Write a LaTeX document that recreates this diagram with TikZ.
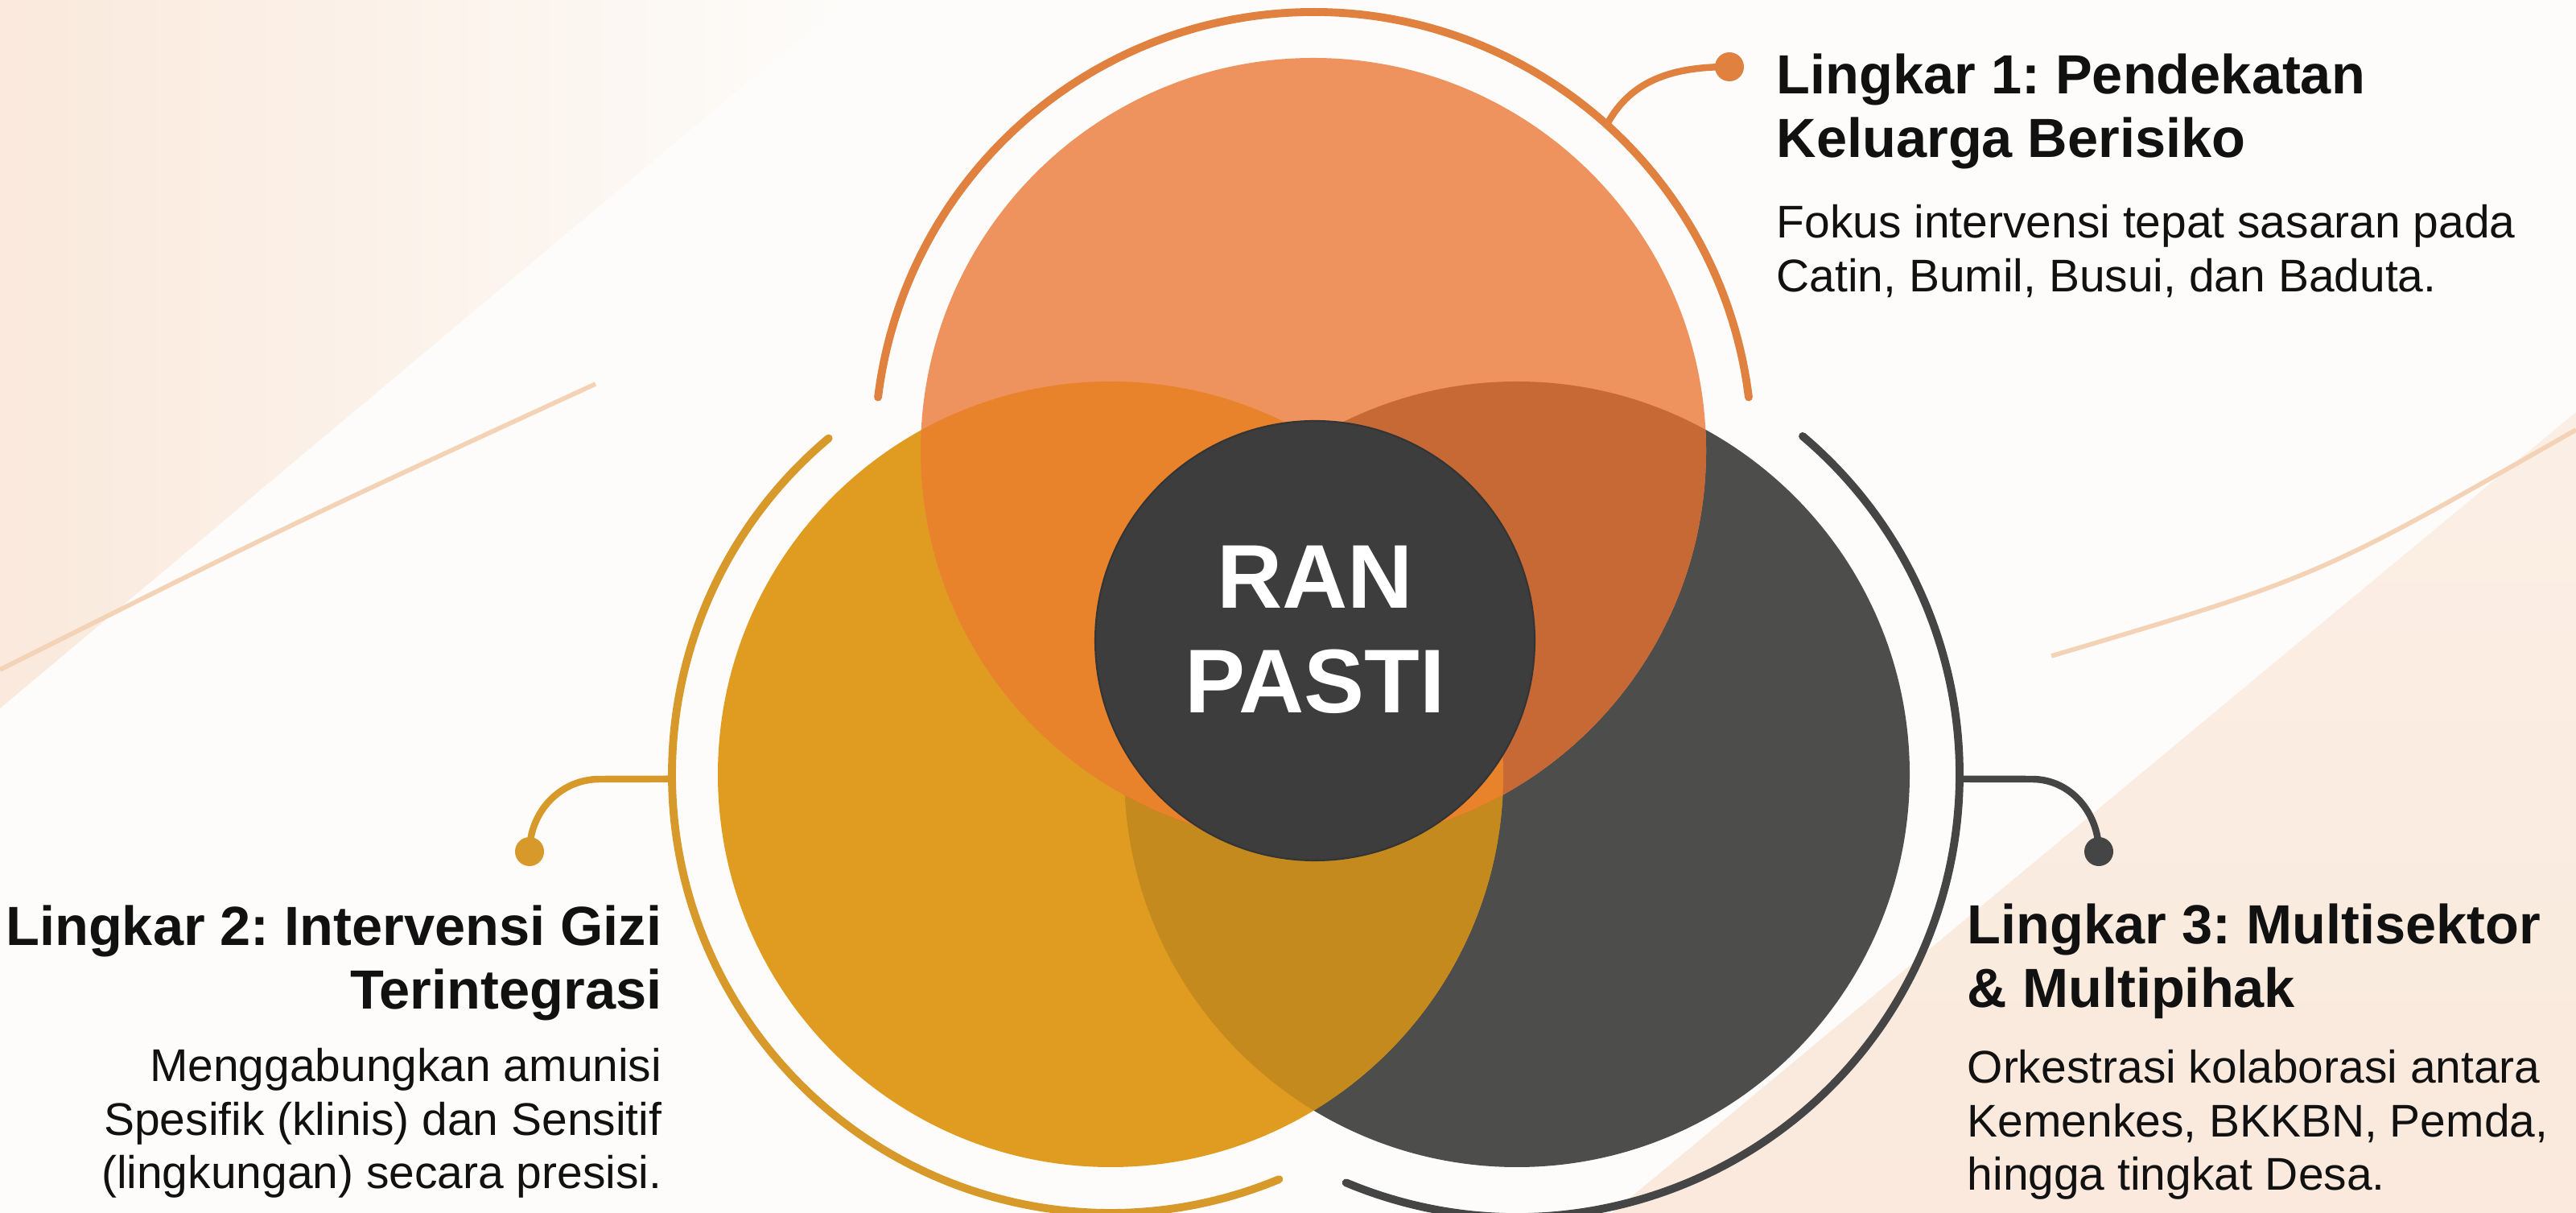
\documentclass[tikz,border=0pt]{standalone}
\usepackage{fontspec}
\setmainfont{Liberation Sans}
\frenchspacing
\usetikzlibrary{positioning, calc}
\definecolor{bgbase}{HTML}{FDFCFA}
\definecolor{bgpeach}{HTML}{FAE9DC}
\definecolor{swooshpeach}{HTML}{F3D2B6}
\definecolor{lingkarone}{HTML}{EE925E}
\definecolor{lingkartwo}{HTML}{E09C20}
\definecolor{lingkarthree}{HTML}{4D4D4C}
\definecolor{mixonetwo}{HTML}{E8822B}
\definecolor{mixonethree}{HTML}{C76934}
\definecolor{mixtwothree}{HTML}{C48A1D}
\definecolor{ringone}{HTML}{E0813F}
\definecolor{ringtwo}{HTML}{D6992A}
\definecolor{ringthree}{HTML}{454545}
\definecolor{hubgray}{HTML}{3D3D3D}
\definecolor{textblack}{HTML}{111111}

\begin{document}
\begin{tikzpicture}[
	ring/.style={line width=2.8pt, line cap=round},
	stem/.style={line width=2.4pt, line cap=round},
	knob/.style={circle, inner sep=0pt, minimum size=0.36cm},
	swoosh/.style={line width=1.6pt, color=swooshpeach},
	headtext/.style={font=\fontsize{19.5}{22.6}\selectfont\bfseries, inner sep=0pt, text=textblack},
	bodytext/.style={font=\fontsize{16.2}{18.9}\selectfont, inner sep=0pt, text=textblack}
]
	\useasboundingbox (0,0) rectangle (32.01,15.07);
	\fill[bgbase] (0,0) rectangle (32.01,15.07);
	\shade[left color=bgpeach, right color=bgbase] (0,15.07) -- (10.5,15.07) -- (0,6.27) -- cycle;
	\shade[bottom color=bgpeach, top color=bgpeach!70!bgbase] (32.01,9.95) -- (20.03,0) -- (32.01,0) -- cycle;
	\draw[swoosh] (0,6.75) .. controls (3.6,8.55) .. (7.4,10.3);
	\draw[swoosh] (25.49,6.92) .. controls (28.8,7.9) .. (32.01,9.73);

	\coordinate (ctop) at (16.32,9.47);
	\coordinate (cleft) at (13.80,5.45);
	\coordinate (cright) at (18.85,5.45);
	\fill[lingkarthree] (cright) circle (4.88);
	\fill[lingkartwo] (cleft) circle (4.88);
	\fill[lingkarone] (ctop) circle (4.88);
	\begin{scope}
		\clip (cleft) circle (4.88);
		\fill[mixtwothree] (cright) circle (4.88);
	\end{scope}
	\begin{scope}
		\clip (ctop) circle (4.88);
		\fill[mixonethree] (cright) circle (4.88);
	\end{scope}
	\begin{scope}
		\clip (ctop) circle (4.88);
		\fill[mixonetwo] (cleft) circle (4.88);
	\end{scope}

	\draw[ring, ringone] ($(ctop)+(7:5.45)$) arc[start angle=7, end angle=173, radius=5.45];
	\draw[ring, ringtwo] ($(cleft)+(130:5.45)$) arc[start angle=130, end angle=292.6, radius=5.45];
	\draw[ring, ringthree] ($(cright)+(-112.7:5.5)$) arc[start angle=-112.7, end angle=49.8, radius=5.5];

	\node[circle, fill=hubgray, draw=hubgray!85!black, line width=0.6pt, minimum size=5.46cm, inner sep=0pt] (hub) at (16.34,7.11) {};
	\node[font=\fontsize{32}{37}\selectfont\bfseries, text=white, align=center, inner sep=0pt] (hubtext) at (16.34,7.25) {RAN\\PASTI};

	\coordinate (onefoot) at ($(ctop)+(48:5.45)$);
	\node[knob, fill=ringone] (oneknob) at (21.49,14.24) {};
	\draw[stem, ringone] (onefoot) to[out=62, in=180] (oneknob.center);
	\coordinate (twofoot) at ($(cleft)+(180.6:5.45)$);
	\coordinate (twobend) at (7.45,5.39);
	\node[knob, fill=ringtwo] (twoknob) at (6.58,4.49) {};
	\draw[stem, ringtwo] (twofoot) -- (twobend) to[out=180, in=90] (twoknob.center);
	\coordinate (threefoot) at ($(cright)+(-0.6:5.5)$);
	\coordinate (threebend) at (25.25,5.39);
	\node[knob, fill=ringthree] (threeknob) at (26.08,4.49) {};
	\draw[stem, ringthree] (threefoot) -- (threebend) to[out=0, in=90] (threeknob.center);

	\node[headtext, anchor=north west, align=left] (onehead) at (22.07,14.41) {Lingkar 1: Pendekatan\\Keluarga Berisiko};
	\node[bodytext, anchor=north west, align=left] (onebody) at (22.07,12.53) {Fokus intervensi tepat sasaran pada\\Catin, Bumil, Busui, dan Baduta.};
	\node[headtext, anchor=north east, align=right] (twohead) at (8.23,3.83) {Lingkar 2: Intervensi Gizi\\Terintegrasi};
	\node[bodytext, anchor=north east, align=right] (twobody) at (8.23,2.05) {Menggabungkan amunisi\\Spesifik (klinis) dan Sensitif\\(lingkungan) secara presisi.};
	\node[headtext, anchor=north west, align=left] (threehead) at (24.44,3.85) {Lingkar 3: Multisektor\\\& Multipihak};
	\node[bodytext, anchor=north west, align=left] (threebody) at (24.44,2.03) {Orkestrasi kolaborasi antara\\Kemenkes, BKKBN, Pemda,\\hingga tingkat Desa.};
\end{tikzpicture}
\end{document}
